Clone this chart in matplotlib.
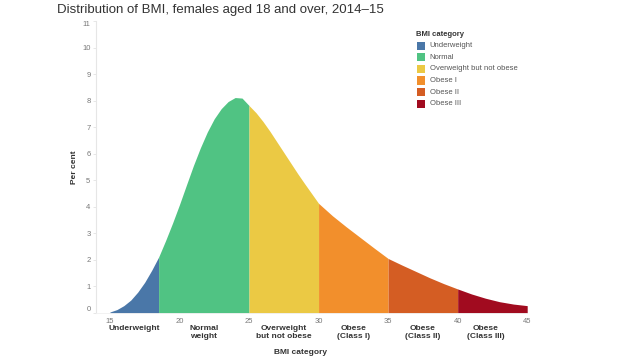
import matplotlib
matplotlib.use("Agg")
import matplotlib.pyplot as plt
import matplotlib.transforms as mtransforms
from matplotlib.patches import Rectangle
import numpy as np

plt.rcParams['font.family'] = ['Liberation Sans', 'DejaVu Sans']

# Data
bmi = [15, 15.5, 16, 16.5, 17, 17.5, 18, 18.5, 19, 19.5, 20, 20.5, 21, 21.5,
       22, 22.5, 23, 23.5, 24, 24.5, 25, 25.5, 26, 26.5, 27, 27.5, 28, 28.5,
       29, 29.5, 30, 31, 32, 33, 34, 35, 36, 37, 38, 39, 40, 41, 42,
       43, 44, 45]
percent = [0.03, 0.12, 0.27, 0.48, 0.78, 1.15, 1.6, 2.1, 2.72, 3.38, 4.08,
           4.82, 5.55, 6.22, 6.82, 7.32, 7.7, 7.97, 8.12, 8.1, 7.82, 7.55,
           7.22, 6.85, 6.45, 6.05, 5.65, 5.25, 4.87, 4.5, 4.13, 3.66, 3.24,
           2.84, 2.44, 2.05, 1.8, 1.56, 1.32, 1.1, 0.9, 0.71, 0.55, 0.42,
           0.33, 0.27]

bounds = [15, 18.5, 25, 30, 35, 40, 45]
legend_names = ["Underweight", "Normal", "Overweight but not obese",
                "Obese I", "Obese II", "Obese III"]
axis_labels = ["Underweight", "Normal\nweight", "Overweight\nbut not obese",
               "Obese\n(Class I)", "Obese\n(Class II)", "Obese\n(Class III)"]
label_pos = [16.75, 21.75, 27.5, 32.5, 37.5, 42.0]
colors = ["#4a77a8", "#50c383", "#ebc944", "#f28f2c", "#d45d23", "#a10b1f"]
xticks = [15, 20, 25, 30, 35, 40, 45]
yticks = list(range(0, 12))

W, H = 640, 360
fig = plt.figure(figsize=(W / 100, H / 100), dpi=100)
ax = fig.add_axes([96 / W, 1 - 312.8 / H, (527.2 - 96) / W, (312.8 - 21.2) / H])

x = np.array(bmi)
y = np.array(percent)
for i, c in enumerate(colors):
    m = (x >= bounds[i]) & (x <= bounds[i + 1])
    ax.fill_between(x[m], 0, y[m], color=c, linewidth=0)

ax.set_xlim(14.0, 45)
ax.set_ylim(0, 11)
for s in ["top", "right"]:
    ax.spines[s].set_visible(False)
ax.spines["left"].set_color("#e6e6e6")
ax.spines["bottom"].set_color("#f0f0f0")
ax.spines["left"].set_linewidth(0.8)
ax.spines["bottom"].set_linewidth(0.6)

ax.set_yticks(yticks)
ax.set_yticklabels([str(t) for t in yticks])
ax.tick_params(axis="y", length=2.5, width=0.5, color="#dddddd", labelsize=5.5,
               labelcolor="#777777", pad=1.5)
yl = ax.get_yticklabels()
yl[0].set_va("bottom")
yl[-1].set_va("top")

ax.set_xticks(xticks)
ax.set_xticklabels([str(t) for t in xticks])
ax.tick_params(axis="x", length=0, labelsize=5.5, labelcolor="#777777", pad=4)

trans = mtransforms.blended_transform_factory(ax.transData, fig.transFigure)
for p, lab in zip(label_pos, axis_labels):
    ax.text(p, 1 - 325 / H, lab, transform=trans, ha="center", va="top",
            fontsize=6, fontweight="bold", color="#333333", linespacing=1.1)

fig.text(300 / W, 1 - 353 / H, "BMI category", ha="center", va="center",
         fontsize=6, fontweight="bold", color="#333333")
fig.text(75 / W, 1 - 167 / H, "Per cent", ha="center", va="center",
         rotation=90, fontsize=6, fontweight="bold", color="#333333")

fig.text(57 / W, 1 - 10 / H, "Distribution of BMI, females aged 18 and over, 2014\u201315",
         ha="left", va="center", fontsize=9.5, color="#333333")

# Legend
fig.text(416 / W, 1 - 35 / H, "BMI category", ha="left", va="center",
         fontsize=5.5, fontweight="bold", color="#333333")
for i, (name, c) in enumerate(zip(legend_names, colors)):
    yc = 45.7 + i * 11.6
    fig.patches.append(Rectangle(((417.3) / W, 1 - (yc + 4) / H), 8 / W, 8 / H,
                                 transform=fig.transFigure, color=c, linewidth=0))
    fig.text(429.5 / W, 1 - yc / H, name, ha="left", va="center",
             fontsize=5.5, color="#555555")

fig.savefig("out.png", dpi=100)
